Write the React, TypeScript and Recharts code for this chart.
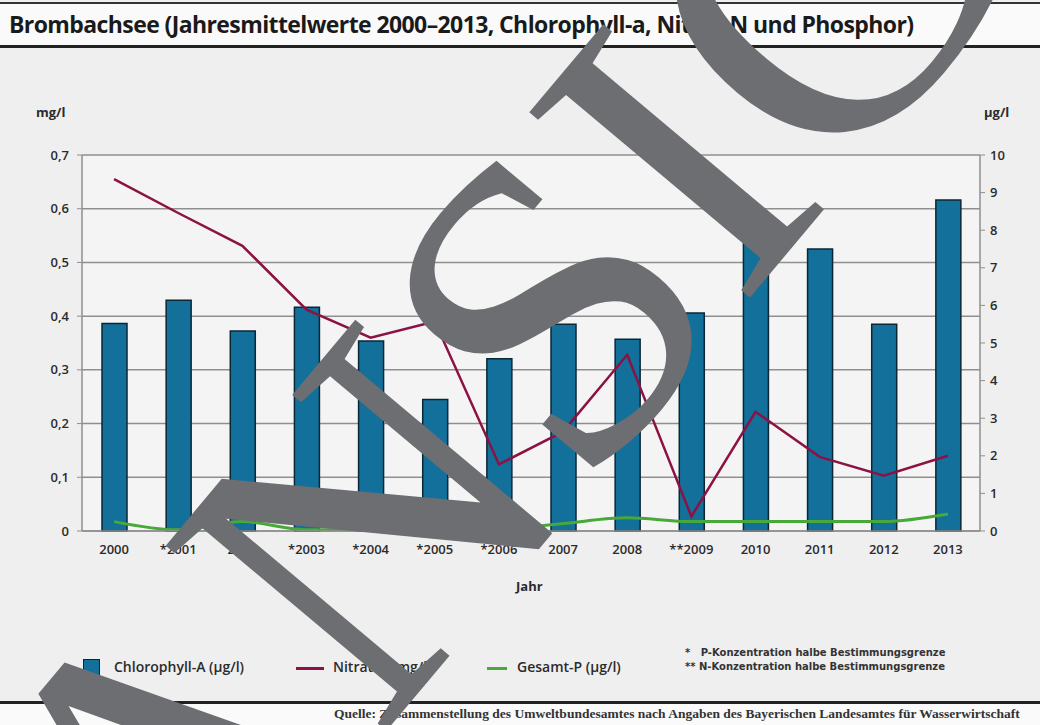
import {
  ComposedChart,
  Bar,
  Line,
  XAxis,
  YAxis,
  CartesianGrid,
} from 'recharts';

// ── Daten ─────────────────────────────────────────────────────────────────────

const jahre = ['2000', '*2001', '2002', '*2003', '*2004', '*2005', '*2006', '2007', '2008', '**2009', '2010', '2011', '2012', '2013'];

// Chlorophyll-A (µg/l), rechte Achse
const chlorophyll = [5.52, 6.14, 5.32, 5.95, 5.05, 3.5, 4.58, 5.5, 5.1, 5.8, 8.12, 7.5, 5.5, 8.8];

// Nitrat-N (mg/l), linke Achse
const nitratN = [0.655, 0.592, 0.531, 0.412, 0.36, 0.39, 0.124, 0.185, 0.328, 0.027, 0.222, 0.138, 0.103, 0.14];

// Gesamt-P (µg/l), rechte Achse
const gesamtP = [0.25, 0.03, 0.25, 0.03, 0.05, 0.05, 0.05, 0.2, 0.35, 0.25, 0.25, 0.25, 0.25, 0.45];

const mgTicks = [0, 0.1, 0.2, 0.3, 0.4, 0.5, 0.6, 0.7];
const ugTicks = [0, 1, 2, 3, 4, 5, 6, 7, 8, 9, 10];

const data = jahre.map((jahr, i) => ({
  jahr,
  chlorophyll: chlorophyll[i],
  nitrat: nitratN[i],
  phosphor: gesamtP[i],
}));

// ── Farben ────────────────────────────────────────────────────────────────────

const BLAU = '#12709a';
const BLAU_RAND = '#0b2735';
const ROT = '#8c1243';
const GRUEN = '#48a83a';
const GRID = '#8f8f8f';
const TEXT = '#2b2b2b';

const tickFont = { fontSize: 13, fill: TEXT, fontWeight: 600, fontFamily: '"Open Sans", sans-serif' };

const mgFormatter = (v: number) => (v === 0 ? '0' : v.toFixed(1).replace('.', ','));

export default function App() {
  return (
    <div
      style={{
        position: 'absolute',
        top: 0,
        left: 0,
        width: 1040,
        height: 725,
        background: '#efefef',
        overflow: 'hidden',
        fontFamily: '"Open Sans", sans-serif',
      }}
    >
      {/* Titelband */}
      <div
        style={{
          position: 'absolute',
          top: 2,
          left: 0,
          width: 1040,
          height: 41,
          background: '#fafafa',
          borderTop: '2px solid #333',
          borderBottom: '3px solid #222',
        }}
      >
        <div
          style={{
            position: 'absolute',
            left: 9,
            top: 4,
            fontSize: 23,
            fontWeight: 700,
            letterSpacing: -0.6,
            color: '#1a1a1a',
            whiteSpace: 'nowrap',
          }}
        >
          Brombachsee (Jahresmittelwerte 2000–2013, Chlorophyll-a, Nitrat-N und Phosphor)
        </div>
      </div>

      {/* Einheiten */}
      <div style={{ position: 'absolute', left: 36, top: 103, fontSize: 13, fontWeight: 700, color: TEXT }}>mg/l</div>
      <div style={{ position: 'absolute', left: 984, top: 103, fontSize: 13, fontWeight: 700, color: TEXT }}>µg/l</div>

      <div style={{ position: 'absolute', top: 0, left: 0 }}>
        <ComposedChart
          width={1040}
          height={600}
          data={data}
          margin={{ top: 155, right: 20, left: 20, bottom: 0 }}
          barCategoryGap={0}
        >
          <CartesianGrid yAxisId="mg" vertical={false} stroke={GRID} strokeWidth={1.5} fill="#f4f4f4" />
          <XAxis
            dataKey="jahr"
            height={69}
            tickSize={0}
            tickMargin={14}
            tick={tickFont}
            axisLine={{ stroke: GRID, strokeWidth: 1.5 }}
            interval={0}
          />
          <YAxis
            yAxisId="mg"
            orientation="left"
            width={62}
            domain={[0, 0.7]}
            ticks={mgTicks}
            tickFormatter={mgFormatter}
            tick={tickFont}
            tickSize={5}
            tickMargin={8}
            tickLine={{ stroke: GRID }}
            axisLine={{ stroke: GRID, strokeWidth: 1.5 }}
          />
          <YAxis
            yAxisId="ug"
            orientation="right"
            width={40}
            domain={[0, 10]}
            ticks={ugTicks}
            tick={tickFont}
            tickSize={5}
            tickMargin={5}
            tickLine={{ stroke: GRID }}
            axisLine={{ stroke: GRID, strokeWidth: 1.5 }}
          />
          <Bar
            yAxisId="ug"
            dataKey="chlorophyll"
            barSize={25}
            fill={BLAU}
            stroke={BLAU_RAND}
            strokeWidth={1.5}
            isAnimationActive={false}
          />
          <Line
            yAxisId="mg"
            type="linear"
            dataKey="nitrat"
            stroke={ROT}
            strokeWidth={2.5}
            dot={false}
            isAnimationActive={false}
          />
          <Line
            yAxisId="ug"
            type="monotone"
            dataKey="phosphor"
            stroke={GRUEN}
            strokeWidth={3}
            dot={false}
            isAnimationActive={false}
          />
        </ComposedChart>
      </div>

      {/* Achsentitel */}
      <div style={{ position: 'absolute', left: 516, top: 577, fontSize: 13, fontWeight: 700, color: TEXT }}>Jahr</div>

      {/* Legende */}
      <div style={{ position: 'absolute', left: 83, top: 659, width: 15, height: 16, background: BLAU, border: `1.5px solid ${BLAU_RAND}` }} />
      <div style={{ position: 'absolute', left: 114, top: 657, fontSize: 14, fontWeight: 600, color: TEXT }}>Chlorophyll-A (µg/l)</div>
      <div style={{ position: 'absolute', left: 296, top: 667, width: 28, height: 3, background: ROT }} />
      <div style={{ position: 'absolute', left: 333, top: 657, fontSize: 14, fontWeight: 600, color: TEXT }}>Nitrat-N (mg/l)</div>
      <div style={{ position: 'absolute', left: 487, top: 667, width: 20, height: 3, background: GRUEN }} />
      <div style={{ position: 'absolute', left: 517, top: 657, fontSize: 14, fontWeight: 600, color: TEXT }}>Gesamt-P (µg/l)</div>

      <div
        style={{
          position: 'absolute',
          left: 685,
          top: 646,
          fontSize: 10,
          lineHeight: '14px',
          fontWeight: 700,
          color: '#333',
          fontFamily: '"DejaVu Sans", sans-serif',
          whiteSpace: 'pre',
        }}
      >
        {'*   P-Konzentration halbe Bestimmungsgrenze\n** N-Konzentration halbe Bestimmungsgrenze'}
      </div>

      {/* Fußzeile */}
      <div style={{ position: 'absolute', top: 701, left: 0, width: 1040, height: 24, background: '#fafafa', borderTop: '3px solid #222' }} />
      <div
        style={{
          position: 'absolute',
          top: 706,
          left: 334,
          fontSize: 13.5,
          fontWeight: 700,
          color: '#333',
          fontFamily: '"Liberation Serif", serif',
          whiteSpace: 'nowrap',
        }}
      >
        Quelle: Zusammenstellung des Umweltbundesamtes nach Angaben des Bayerischen Landesamtes für Wasserwirtschaft
      </div>

      {/* Wasserzeichen */}
      <svg
        width={1040}
        height={725}
        style={{ position: 'absolute', top: 0, left: 0, pointerEvents: 'none' }}
      >
        <text
          x={174}
          y={984}
          transform="rotate(-50 174 984)"
          fontFamily='"Liberation Serif", serif'
          fontSize={440}
          fill="#6d6e71"
        >
          ANSICHT
        </text>
      </svg>
    </div>
  );
}
